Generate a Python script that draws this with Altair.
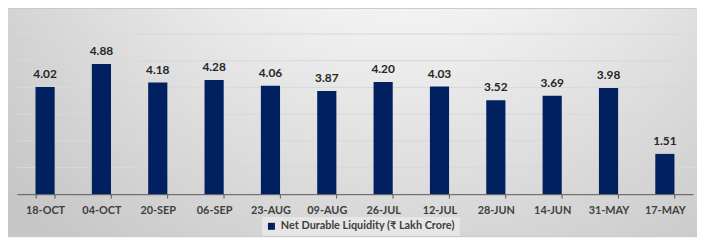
import altair as alt
import pandas as pd

dates = ["18-OCT", "04-OCT", "20-SEP", "06-SEP", "23-AUG", "09-AUG",
         "26-JUL", "12-JUL", "28-JUN", "14-JUN", "31-MAY", "17-MAY"]
values = [4.02, 4.88, 4.18, 4.28, 4.06, 3.87, 4.20, 4.03, 3.52, 3.69, 3.98, 1.51]
series_name = "Net Durable Liquidity (₹ Lakh Crore)"
grid_values = [1, 2, 3, 4, 5, 6]

df = pd.DataFrame({"date": dates, "value": values, "series": [series_name] * len(dates)})
bg_df = pd.DataFrame({"k": [0]})
grid_df = pd.DataFrame({"value": grid_values})

W, H = 684, 162
FONT = "Lato"

gradient = {
    "gradient": "radial",
    "x1": 0.58, "y1": 0.05, "r1": 0.0,
    "x2": 0.58, "y2": 0.05, "r2": 0.8,
    "stops": [
        {"offset": 0.0, "color": "#ffffff"},
        {"offset": 0.35, "color": "#f3f3f3"},
        {"offset": 1.0, "color": "#c6c6c6"},
    ],
}

bg = alt.Chart(bg_df).mark_rect(
    fill=gradient, stroke="#c4c4c4", strokeWidth=1
).encode(
    x=alt.value(-12), x2=alt.value(W + 6),
    y=alt.value(-26), y2=alt.value(H + 43),
)

y_scale = alt.Scale(domain=[0, 6], nice=False)

grid = alt.Chart(grid_df).mark_rule(color="#d9d9d9", strokeWidth=1).encode(
    y=alt.Y("value:Q", scale=y_scale, axis=None),
    x=alt.value(0), x2=alt.value(W + 4),
)

x_enc = alt.X(
    "date:N", sort=dates,
    scale=alt.Scale(paddingInner=0.66, paddingOuter=0.33),
    axis=alt.Axis(
        title=None, labelAngle=0, labelFont=FONT, labelFontWeight="bold",
        labelFontSize=11, labelColor="#404040", labelPadding=7,
        domainColor="#595959", tickColor="#595959", tickSize=4,
        tickBand="extent", grid=False, zindex=2,
    ),
)
y_enc = alt.Y("value:Q", scale=y_scale, axis=None)

bars = alt.Chart(df).mark_bar(color="#002060").encode(
    x=x_enc, y=y_enc,
    color=alt.Color(
        "series:N",
        scale=alt.Scale(range=["#002060"]),
        legend=alt.Legend(
            title=None, orient="none", legendX=248, legendY=185,
            direction="horizontal", symbolType="square", symbolSize=50,
            symbolStrokeWidth=0, labelFont=FONT, labelFontWeight="bold",
            labelFontSize=11, labelColor="#404040", padding=4,
            fillColor="#e6e6e6", labelLimit=400,
        ),
    ),
)

labels = alt.Chart(df).mark_text(
    baseline="bottom", dy=-6, font=FONT, fontWeight="bold", fontSize=12,
    color="#262626",
).encode(
    x=alt.X("date:N", sort=dates),
    y=alt.Y("value:Q"),
    text=alt.Text("value:Q", format=".2f"),
)

chart = alt.layer(bg, grid, bars, labels).properties(
    width=W, height=H,
    padding={"left": 9, "top": 25, "right": 4, "bottom": 45},
    autosize=alt.AutoSizeParams(type="none"),
    background="#ffffff",
).configure_view(strokeWidth=0)

chart.save("out.html", embed_options={"renderer": "svg", "actions": False})
